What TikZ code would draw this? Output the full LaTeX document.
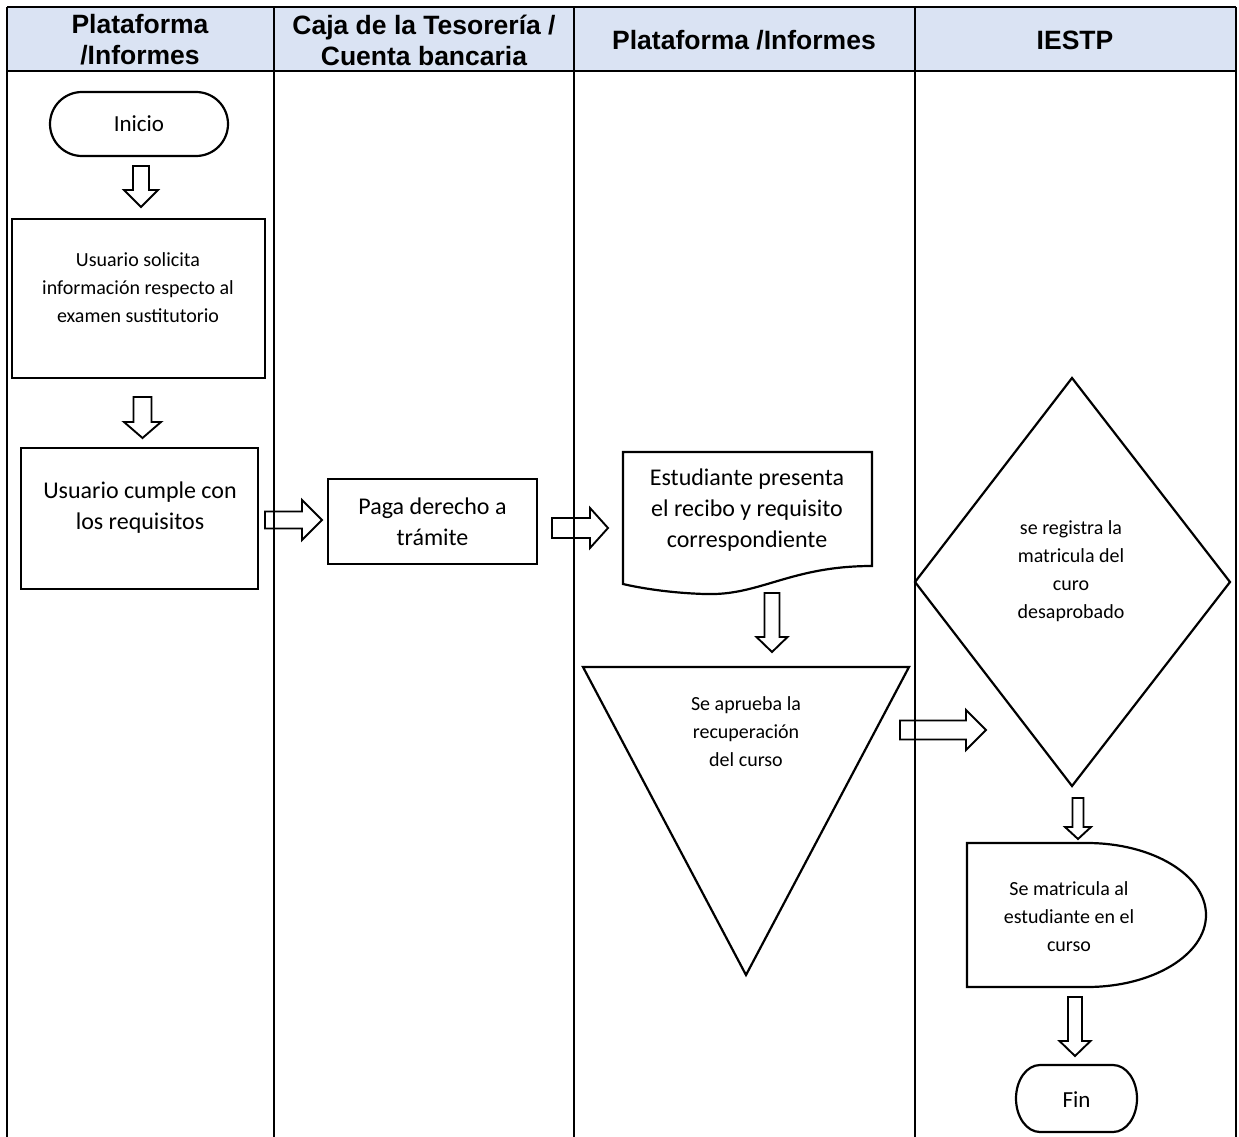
\documentclass[tikz,border=0pt]{standalone}
\usepackage{fontspec}
\setmainfont{Carlito}
\newfontfamily\hdrfont{Liberation Sans}
\usetikzlibrary{calc}
\definecolor{hdrblue}{RGB}{218,227,243}
\tikzset{
  lane/.style={line width=1.8pt},
  shapeline/.style={draw, line width=2.2pt, line join=miter},
  box/.style={shapeline, rectangle, inner sep=0pt},
  term/.style={shapeline, rectangle, rounded corners=#1, inner sep=0pt},
  blk/.style={draw, line width=1.9pt, line join=miter},
  hdr/.style={font=\hdrfont\bfseries\fontsize{26.5}{31}\selectfont, align=center},
  big/.style={font=\fontsize{24}{31}\selectfont, align=center, inner sep=0pt},
  small/.style={font=\fontsize{20}{28}\selectfont, align=center, inner sep=0pt},
}
% hollow block arrows: tail coordinate, tip coordinate, shaft half width, head half width, head length
\newcommand{\blkdown}[5]{%
  \draw[blk] let \p1=(#1), \p2=(#2) in
    (\x1-#3pt,\y1) -- (\x1+#3pt,\y1) -- (\x1+#3pt,\y2+#5pt) -- (\x1+#4pt,\y2+#5pt)
    -- (\x1,\y2) -- (\x1-#4pt,\y2+#5pt) -- (\x1-#3pt,\y2+#5pt) -- cycle;}
\newcommand{\blkright}[5]{%
  \draw[blk] let \p1=(#1), \p2=(#2) in
    (\x1,\y1+#3pt) -- (\x2-#5pt,\y1+#3pt) -- (\x2-#5pt,\y1+#4pt) -- (\x2,\y1)
    -- (\x2-#5pt,\y1-#4pt) -- (\x2-#5pt,\y1-#3pt) -- (\x1,\y1-#3pt) -- cycle;}
\begin{document}
\begin{tikzpicture}[x=1pt,y=-1pt]
\useasboundingbox (0,0) rectangle (1239,1137);

% header band
\fill[hdrblue] (7,7) rectangle (1236,71);
\node[hdr] (h1) at (140,40) {Plataforma\\/Informes};
\node[hdr] (h2) at (424,40) {Caja de la Tesorería /\\Cuenta bancaria};
\node[hdr] (h3) at (744,40) {Plataforma /Informes};
\node[hdr] (h4) at (1075,40) {IESTP};

% lane 1
\node[term=32pt, minimum width=178pt, minimum height=64pt,
      font=\fontsize{23}{28}\selectfont] (inicio) at (139,124) {Inicio};
\node[box, minimum width=253pt, minimum height=159pt] (box1) at (138.5,298.5) {};
\node[small] (box1t) at (138,288) {Usuario solicita\\información respecto al\\examen sustitutorio};
\node[box, minimum width=237pt, minimum height=141pt] (box2) at (139.5,518.5) {};
\node[big] (box2t) at (140,508) {Usuario cumple con\\los requisitos};

% lane 2
\node[box, minimum width=209pt, minimum height=85pt, big] (pago) at (432.5,521.5) {Paga derecho a\\trámite};

% lane 3: document shape
\draw[shapeline] (623,452) -- (872,452) -- (872,566)
  .. controls (790,566) and (760,596) .. (705,594)
  .. controls (670,593) and (640,588) .. (623,584) -- cycle;
\node[big] (doc) at (747,510) {Estudiante presenta\\el recibo y requisito\\correspondiente};
% lane 3: inverted triangle
\draw[shapeline] (583,667) -- (909,667) -- (746,975) -- cycle;
\node[small] (tri) at (746,732) {Se aprueba la\\recuperación\\del curso};

% lane 4: decision
\draw[shapeline] (1072,378) -- (1230,582) -- (1072,786) -- (915,582) -- cycle;
\node[small] (dec) at (1071,571) {se registra la\\matricula del\\curo\\desaprobado};
% lane 4: delay shape
\draw[shapeline] (967,843) -- (1087,843)
  .. controls (1152.7,843) and (1206,875.2) .. (1206,915)
  .. controls (1206,954.8) and (1152.7,987) .. (1087,987)
  -- (967,987) -- cycle;
\node[small] (mat) at (1069,917) {Se matricula al\\estudiante en el\\curso};
% lane 4: terminator with elliptic ends
\draw[shapeline] (1040,1065) -- (1113,1065)
  .. controls (1126.3,1065) and (1137,1080) .. (1137,1098.5)
  .. controls (1137,1117) and (1126.3,1132) .. (1113,1132)
  -- (1040,1132)
  .. controls (1026.7,1132) and (1016,1117) .. (1016,1098.5)
  .. controls (1016,1080) and (1026.7,1065) .. (1040,1065) -- cycle;
\node[font=\fontsize{23}{28}\selectfont, inner sep=0pt] (fin) at (1076.5,1100) {Fin};

% block arrow end points
\coordinate (a1t) at (141,166);   \coordinate (a1h) at (141,207);
\coordinate (a2t) at (142.5,397); \coordinate (a2h) at (142.5,438);
\coordinate (a3t) at (265,520);   \coordinate (a3h) at (322,520);
\coordinate (a4t) at (552,528);   \coordinate (a4h) at (608,528);
\coordinate (a5t) at (772,593);   \coordinate (a5h) at (772,652);
\coordinate (a6t) at (900,730);   \coordinate (a6h) at (986,730);
\coordinate (a7t) at (1078,798);  \coordinate (a7h) at (1078,839);
\coordinate (a8t) at (1075,997);  \coordinate (a8h) at (1075,1056);

\blkdown{a1t}{a1h}{8}{17}{17}
\blkdown{a2t}{a2h}{9}{18.5}{16}
\blkright{a3t}{a3h}{8.5}{20}{20}
\blkright{a4t}{a4h}{10}{20}{18}
\blkdown{a5t}{a5h}{7.5}{15.5}{15}
\blkright{a6t}{a6h}{9.5}{20}{20}
\blkdown{a7t}{a7h}{5.5}{13}{12}
\blkdown{a8t}{a8h}{7}{15.5}{15}

% lane grid
\draw[lane] (7,7) -- (1236,7);
\draw[lane] (7,71) -- (1236,71);
\foreach \lx in {7,274,574,915,1236}
  \draw[lane] (\lx,7) -- (\lx,1137);
\end{tikzpicture}
\end{document}
